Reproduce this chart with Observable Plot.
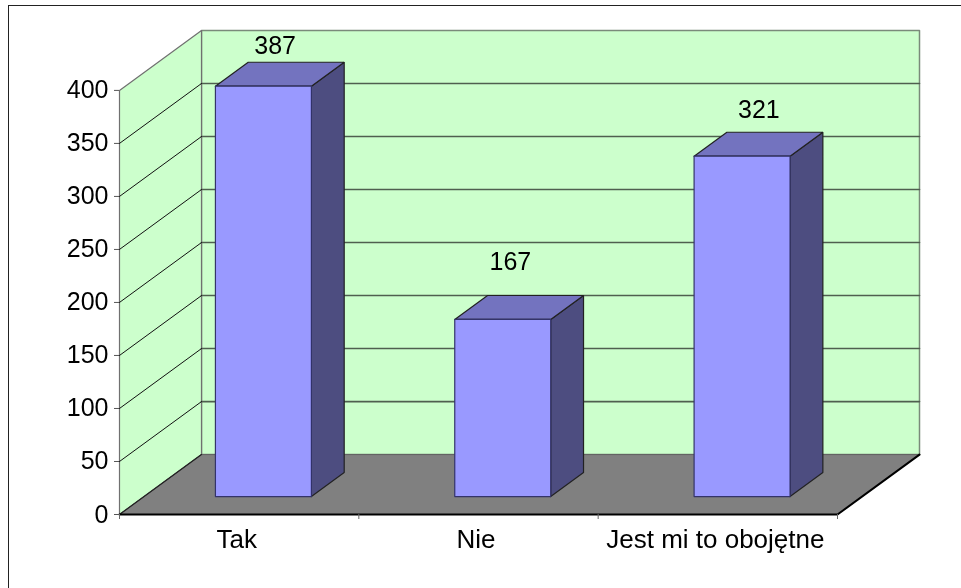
<!DOCTYPE html>
<html>
<head>
<meta charset="utf-8">
<script src="https://cdn.jsdelivr.net/npm/d3@7"></script>
<script src="https://cdn.jsdelivr.net/npm/@observablehq/plot@0.6"></script>
<style>
  html, body { margin: 0; padding: 0; background: #fff; overflow: hidden; }
  #frame { position: absolute; left: 8px; top: 5px; right: 0; bottom: 0; border-left: 1.5px solid #222; border-top: 1.5px solid #222; pointer-events: none; }
  #chart svg { display: block; filter: blur(0.35px); }
</style>
</head>
<body>
<div id="chart"></div>
<div id="frame"></div>
<script>
const categories = ["Tak", "Nie", "Jest mi to obojętne"];
const values = [387, 167, 321];
const yTicks = [0, 50, 100, 150, 200, 250, 300, 350, 400];

const yMax = 400;
const depthX = 0.3426;   // chart depth in category units
const depthY = 56.5;     // chart depth in value units
const project = (c, v, z) => ({x: c + z * depthX, y: v + z * depthY});

const poly = (id, pts) => [...pts, pts[0]].map(([c, v, z]) => ({id, ...project(c, v, z)}));
const n = categories.length;

const backWall = poly(0, [[0, 0, 1], [n, 0, 1], [n, yMax, 1], [0, yMax, 1]]);
const sideWall = poly(0, [[0, 0, 0], [0, 0, 1], [0, yMax, 1], [0, yMax, 0]]);
const floor = poly(0, [[0, 0, 0], [n, 0, 0], [n, 0, 1], [0, 0, 1]]);
const gridBack = yTicks.slice(1, -1).flatMap((t) => [[0, t, 1], [n, t, 1]].map(([c, v, z]) => ({id: t, ...project(c, v, z)})));
const gridSide = yTicks.slice(1, -1).flatMap((t) => [[0, t, 0], [0, t, 1]].map(([c, v, z]) => ({id: t, ...project(c, v, z)})));

const barLeft = (i) => i + 0.298, barRight = (i) => i + 0.699;
const zFront = 0.3, zBack = 0.7;
const fronts = values.flatMap((v, i) => poly(i, [[barLeft(i), 0, zFront], [barRight(i), 0, zFront], [barRight(i), v, zFront], [barLeft(i), v, zFront]]));
const tops = values.flatMap((v, i) => poly(i, [[barLeft(i), v, zFront], [barRight(i), v, zFront], [barRight(i), v, zBack], [barLeft(i), v, zBack]]));
const sides = values.flatMap((v, i) => poly(i, [[barRight(i), 0, zFront], [barRight(i), 0, zBack], [barRight(i), v, zBack], [barRight(i), v, zFront]]));

// Value labels float above each bar's top, nudged the way the original placed them
const labelShift = [[-0.021, 19], [-0.038, 36], [0, 25]];
const labels = values.map((v, i) => {
  const p = project(i + 0.4985, v, zBack);
  return {text: String(v), x: p.x - 0.067 + labelShift[i][0], y: p.y + labelShift[i][1] - 4};
});

const style = {stroke: "#222", strokeWidth: 1.2, strokeLinejoin: "miter"};

const chart = Plot.plot({
  width: 961,
  height: 588,
  marginLeft: 119,
  marginRight: 42,
  marginTop: 30,
  marginBottom: 74,
  style: {fontFamily: "'Liberation Sans', Arial, sans-serif", fontSize: "25px", color: "#000", background: "#fff"},
  x: {domain: [0, n + depthX], axis: null},
  y: {domain: [0, yMax + depthY], axis: null},
  marks: [
    Plot.line(backWall, {x: "x", y: "y", z: "id", fill: "#CCFFCC", stroke: "#7a8a7a", strokeWidth: 1.5}),
    Plot.line(sideWall, {x: "x", y: "y", z: "id", fill: "#CCFFCC", stroke: "#707070", strokeWidth: 1.2}),
    Plot.line(gridBack, {x: "x", y: "y", z: "id", stroke: "#4f5f4f", strokeWidth: 1.6}),
    Plot.line(gridSide, {x: "x", y: "y", z: "id", stroke: "#111", strokeWidth: 1}),
    Plot.line(floor, {x: "x", y: "y", z: "id", fill: "#808080", stroke: "#606060", strokeWidth: 1}),
    Plot.line([project(0, 0, 1), project(0, 0, 0)], {x: "x", y: "y", stroke: "#222", strokeWidth: 1.2}),
    Plot.line([project(0, 0, 0), project(n, 0, 0), project(n, 0, 1)], {x: "x", y: "y", stroke: "#000", strokeWidth: 2}),
    Plot.line(sides, {x: "x", y: "y", z: "id", fill: "#4D4D80", ...style}),
    Plot.line(tops, {x: "x", y: "y", z: "id", fill: "#7373BF", ...style}),
    Plot.line(fronts, {x: "x", y: "y", z: "id", fill: "#9999FF", stroke: "#33336a", strokeWidth: 1.2}),
    Plot.axisY({anchor: "left", ticks: yTicks, tickSize: 5, tickPadding: 6, stroke: "#555", tickFormat: (d) => d, label: null, fill: "#000"}),
    Plot.axisX({anchor: "bottom", ticks: d3.range(n + 1), tickSize: 5, stroke: "#666", tickFormat: () => "", label: null}),
    Plot.axisX({anchor: "bottom", ticks: d3.range(n).map((i) => i + 0.5), tickSize: 0, tickPadding: 15, dx: -2.5, fontSize: 26, tickFormat: (d) => categories[d - 0.5], label: null, fill: "#000"}),
    Plot.text(labels, {x: "x", y: "y", text: "text", fill: "#000", fontSize: 25})
  ]
});
document.getElementById("chart").append(chart);
</script>
</body>
</html>
